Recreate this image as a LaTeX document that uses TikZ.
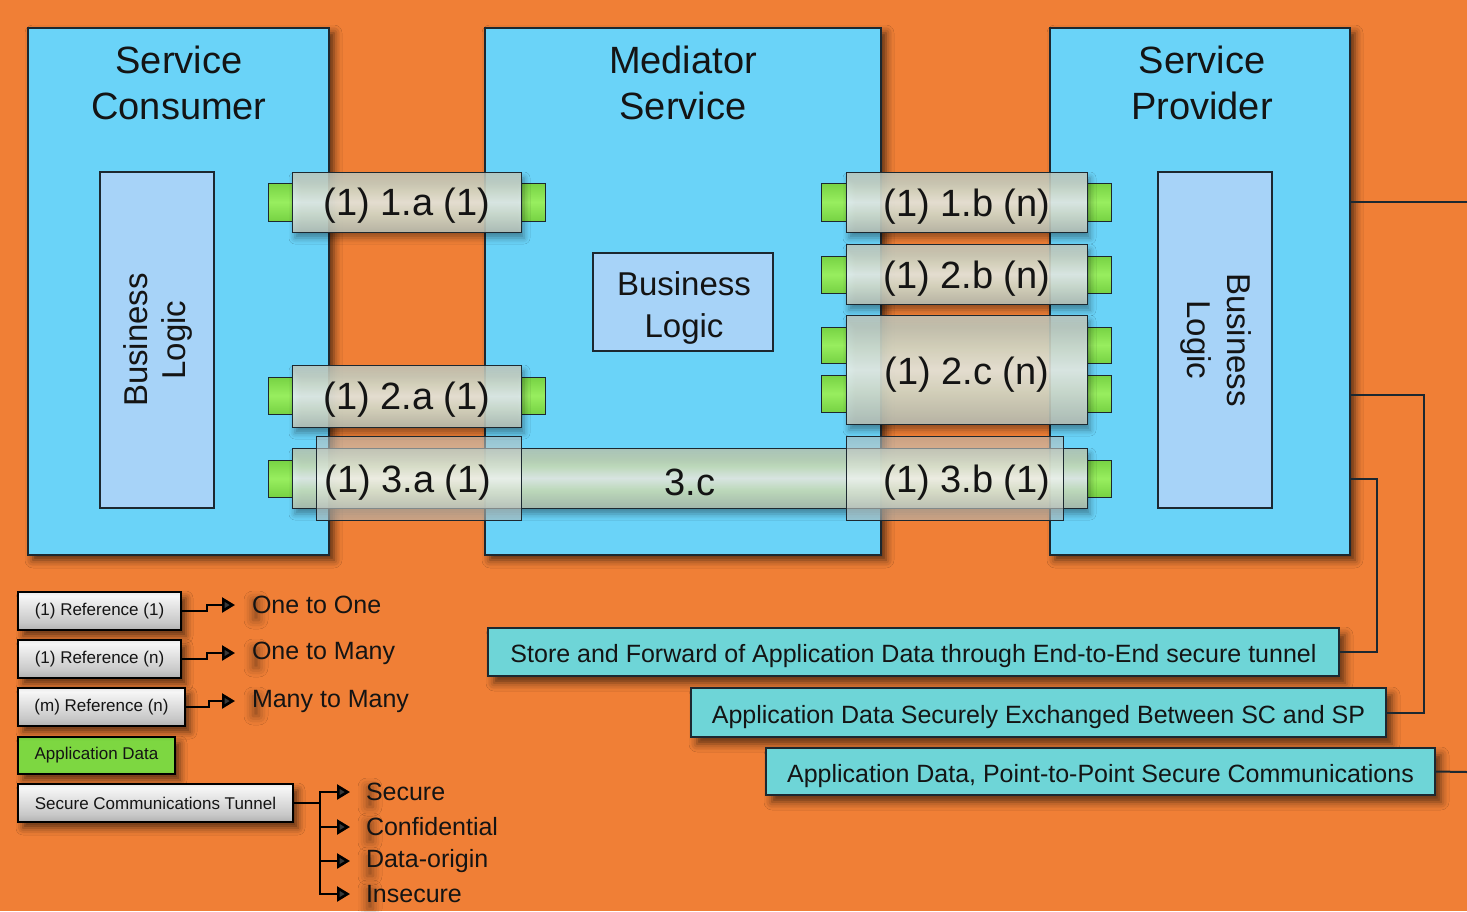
\documentclass[tikz,border=0pt]{standalone}
\usepackage{fontspec}
\setmainfont{Liberation Sans}
\usetikzlibrary{arrows.meta,shadows.blur,calc}

% palette
\definecolor{bgorange}{RGB}{240,127,54}
\definecolor{boxblue}{RGB}{106,211,248}
\definecolor{bizblue}{RGB}{167,211,248}
\definecolor{edge}{RGB}{28,40,48}
\definecolor{teal}{RGB}{110,213,215}
\definecolor{ink}{RGB}{20,20,20}
% tube body
\definecolor{tubeB}{RGB}{90,100,105}
\definecolor{tubeG}{RGB}{160,167,163}
\definecolor{tubeL}{RGB}{222,230,212}
\definecolor{tubeH}{RGB}{242,246,238}
% long tube
\definecolor{longL}{RGB}{210,232,192}
% sleeves
\definecolor{slvB}{RGB}{85,95,100}
\definecolor{slvG}{RGB}{150,158,160}
\definecolor{slvL}{RGB}{218,222,214}
% end caps
\definecolor{capB}{RGB}{55,130,35}
\definecolor{capG}{RGB}{112,205,62}
\definecolor{capL}{RGB}{152,238,95}
% legend boxes
\definecolor{legB}{RGB}{120,120,120}
\definecolor{legG}{RGB}{200,200,200}
\definecolor{legL}{RGB}{246,246,246}
\definecolor{appB}{RGB}{70,150,30}
\definecolor{appL}{RGB}{125,215,65}

\pgfdeclareverticalshading{tubeshade}{100bp}{color(0bp)=(tubeB); color(12bp)=(tubeG); color(40bp)=(tubeL); color(50bp)=(tubeH); color(60bp)=(tubeL); color(88bp)=(tubeG); color(100bp)=(tubeB)}
\pgfdeclareverticalshading{longshade}{100bp}{color(0bp)=(tubeB); color(15bp)=(tubeG); color(40bp)=(longL); color(50bp)=(tubeH); color(60bp)=(longL); color(85bp)=(tubeG); color(100bp)=(tubeB)}
\pgfdeclareverticalshading{sleeveshade}{100bp}{color(0bp)=(slvB); color(15bp)=(slvG); color(40bp)=(slvL); color(50bp)=(tubeH); color(60bp)=(slvL); color(85bp)=(slvG); color(100bp)=(slvB)}
\pgfdeclareverticalshading{capshade}{100bp}{color(0bp)=(capB); color(20bp)=(capG); color(50bp)=(capL); color(80bp)=(capG); color(100bp)=(capB)}
\pgfdeclareverticalshading{legshade}{100bp}{color(0bp)=(legB); color(35bp)=(legG); color(70bp)=(legL); color(90bp)=(legG); color(100bp)=(legB)}
\pgfdeclareverticalshading{appshade}{100bp}{color(0bp)=(appB); color(30bp)=(appL); color(70bp)=(appL); color(100bp)=(appB)}

% rectangle node from its corners: style, name, x1, y1, x2, y2, text
\newcommand{\rbox}[7]{%
  \node[#1, minimum width={(#5)-(#3)}, minimum height={(#6)-(#4)}]
    (#2) at ({((#3)+(#5))/2},{((#4)+(#6))/2}) {#7};}

% legend caption with a soft dark halo behind it
\newlength{\legw}
\newcommand{\legtext}[3]{%
  \settowidth{\legw}{\fontsize{25}{30}\selectfont #3}%
  \path[halo] ($(#2)+(3,-10)$) rectangle ($(#2)+({\legw-3pt},10)$);
  \node[legcap] (#1) at (#2) {#3};}

\begin{document}
\begin{tikzpicture}[x=1pt,y=-1pt,
  every node/.style={inner sep=0pt, outer sep=0pt, text=ink},
  bigbox/.style={draw=edge, line width=1.4pt, fill=boxblue,
    blur shadow={shadow xshift=5pt, shadow yshift=-5pt, shadow blur radius=8pt, shadow opacity=65}},
  bizbox/.style={draw=edge, line width=1.1pt, fill=bizblue, align=center,
    font=\fontsize{33}{41}\selectfont},
  title/.style={align=center, font=\fontsize{38}{46}\selectfont},
  endcap/.style={draw=edge, line width=1pt, shading=capshade},
  tube/.style={draw=edge, line width=1pt, shading=tubeshade, fill opacity=0.85,
    blur shadow={shadow xshift=3pt, shadow yshift=-6pt, shadow blur radius=6pt, shadow opacity=45}},
  longtube/.style={draw=edge, line width=1pt, shading=longshade, fill opacity=0.85,
    blur shadow={shadow xshift=3pt, shadow yshift=-6pt, shadow blur radius=6pt, shadow opacity=45}},
  sleeve/.style={draw=edge, line width=1pt, shading=sleeveshade, fill opacity=0.6},
  tubelabel/.style={font=\fontsize{38}{40}\selectfont},
  legbox/.style={draw=black, line width=1.5pt, shading=legshade,
    blur shadow={shadow xshift=5pt, shadow yshift=-6pt, shadow blur radius=7pt, shadow opacity=60},
    font=\fontsize{17}{20}\selectfont},
  appbox/.style={draw=black, line width=1.5pt, shading=appshade,
    blur shadow={shadow xshift=5pt, shadow yshift=-6pt, shadow blur radius=7pt, shadow opacity=60},
    font=\fontsize{17}{20}\selectfont},
  legcap/.style={anchor=west, font=\fontsize{25}{30}\selectfont},
  halo/.style={blur shadow={shadow xshift=4pt, shadow yshift=-5pt, shadow blur radius=9pt, shadow opacity=45}},
  legarrow/.style={line width=2.6pt, -{Triangle[length=13pt,width=15pt]}},
  legline/.style={line width=2.6pt},
  notebox/.style={draw=edge, line width=1.4pt, fill=teal,
    blur shadow={shadow xshift=6pt, shadow yshift=-7pt, shadow blur radius=8pt, shadow opacity=60},
    font=\fontsize{25}{30}\selectfont, text height=23pt, text depth=2pt},
  link/.style={draw=edge, line width=2pt}
]
\fill[bgorange] (0,0) rectangle (1467,911);
\useasboundingbox (0,0) rectangle (1467,911);

% ---- the three parties ----
\rbox{bigbox}{consumer}{28}{28}{329}{555}{}
\rbox{bigbox}{mediator}{485}{28}{881}{555}{}
\rbox{bigbox}{provider}{1050}{28}{1350}{555}{}
\node[title] (consumerT) at (179,83) {Service\\Consumer};
\node[title] (mediatorT) at (683,83) {Mediator\\Service};
\node[title] (providerT) at (1202,83) {Service\\Provider};

% business logic blocks
\rbox{bizbox}{bizC}{100}{172}{214}{508}{}
\node[bizbox, draw=none, fill=none, rotate=90, font=\fontsize{33}{38}\selectfont] (bizCT) at (158,340) {Business\\Logic};
\rbox{bizbox}{bizM}{593}{253}{773}{351}{}
\node[bizbox, draw=none, fill=none, font=\fontsize{33}{42}\selectfont] (bizMT) at (684,308) {Business\\Logic};
\rbox{bizbox}{bizP}{1158}{172}{1272}{508}{}
\node[bizbox, draw=none, fill=none, rotate=-90, font=\fontsize{33}{40}\selectfont] (bizPT) at (1216,340) {Business\\Logic};

% ---- reference tubes, consumer side ----
\rbox{endcap}{c1aL}{268}{183}{292}{221}{}
\rbox{endcap}{c1aR}{521}{183}{545}{221}{}
\rbox{tube}{t1a}{292}{172}{521}{232}{}
\node[tubelabel] (l1a) at (407,206) {(1) 1.a (1)};

\rbox{endcap}{c2aL}{268}{377}{292}{414}{}
\rbox{endcap}{c2aR}{521}{377}{545}{414}{}
\rbox{tube}{t2a}{292}{365}{521}{427}{}
\node[tubelabel] (l2a) at (407,400) {(1) 2.a (1)};

% ---- reference tubes, provider side ----
\rbox{endcap}{c1bL}{821}{183}{846}{221}{}
\rbox{endcap}{c1bR}{1087}{183}{1111}{221}{}
\rbox{tube}{t1b}{846}{172}{1087}{232}{}
\node[tubelabel] (l1b) at (967,207) {(1) 1.b (n)};

\rbox{endcap}{c2bL}{821}{256}{846}{293}{}
\rbox{endcap}{c2bR}{1087}{256}{1111}{293}{}
\rbox{tube}{t2b}{846}{244}{1087}{304}{}
\node[tubelabel] (l2b) at (967,279) {(1) 2.b (n)};

\rbox{endcap}{c2cL1}{821}{327}{846}{363}{}
\rbox{endcap}{c2cR1}{1087}{327}{1111}{363}{}
\rbox{endcap}{c2cL2}{821}{375}{846}{412}{}
\rbox{endcap}{c2cR2}{1087}{375}{1111}{412}{}
\rbox{tube}{t2c}{846}{315}{1087}{424}{}
\node[tubelabel] (l2c) at (967,375) {(1) 2.c (n)};

% ---- end-to-end tunnel through the mediator ----
\rbox{endcap}{c3L}{268}{460}{292}{497}{}
\rbox{endcap}{c3R}{1087}{460}{1111}{497}{}
\rbox{longtube}{t3c}{292}{448}{1087}{508}{}
\rbox{sleeve}{s3a}{316}{436}{521}{520}{}
\rbox{sleeve}{s3b}{846}{436}{1063}{520}{}
\node[tubelabel] (l3a) at (408,483) {(1) 3.a (1)};
\node[tubelabel] (l3c) at (690,482) {3.c};
\node[tubelabel] (l3b) at (967,483) {(1) 3.b (1)};

% ---- legend ----
\rbox{legbox}{ref11}{18}{592}{181}{630}{(1) Reference (1)}
\rbox{legbox}{ref1n}{18}{640}{181}{678}{(1) Reference (n)}
\rbox{legbox}{refmn}{18}{688}{185}{726}{(m) Reference (n)}
\rbox{appbox}{appdata}{18}{737}{175}{774}{Application Data}
\rbox{legbox}{tunnel}{18}{784}{293}{822}{Secure Communications Tunnel}

\legtext{oneone}{252,605}{One to One}
\legtext{onemany}{252,653}{One to Many}
\legtext{manymany}{252,701}{Many to Many}
\legtext{secure}{366,792}{Secure}
\legtext{confid}{366,827}{Confidential}
\legtext{origin}{366,861}{Data-origin}
\legtext{insecure}{366,894}{Insecure}

\draw[legarrow] (ref11.east) -- ++(26,0) |- ([xshift=-17pt]oneone.west);
\draw[legarrow] (ref1n.east) -- ++(26,0) |- ([xshift=-17pt]onemany.west);
\draw[legarrow] (refmn.east) -- ++(24,0) |- ([xshift=-17pt]manymany.west);

\coordinate (fork) at ($(tunnel.east)+(27,0)$);
\draw[legline] (tunnel.east) -- (fork);
\draw[legarrow] (fork) |- ([xshift=-16pt]secure.west);
\draw[legarrow] (fork) |- ([xshift=-16pt]confid.west);
\draw[legarrow] (fork) |- ([xshift=-16pt]origin.west);
\draw[legarrow] (fork) |- ([xshift=-16pt]insecure.west);

% ---- notes on the right ----
\coordinate (outA) at (1467,202);
\coordinate (outB) at (1467,772);
\coordinate (pA) at ($(provider.north east)+(0,174)$);
\coordinate (pB) at ($(provider.north east)+(0,367)$);
\coordinate (pC) at ($(provider.north east)+(0,451)$);

\rbox{notebox}{store}{488}{628}{1339}{676}{Store and Forward of Application Data through End-to-End secure tunnel}
\rbox{notebox}{exch}{691}{688}{1386}{737}{Application Data Securely Exchanged Between SC and SP}
\rbox{notebox}{p2p}{766}{748}{1435}{795}{Application Data, Point-to-Point Secure Communications}

\draw[link] (pA) -- (outA);
\draw[link] (pB) -| ([xshift=38pt]exch.east) -- (exch.east);
\draw[link] (pC) -| ([xshift=38pt]store.east) -- (store.east);
\draw[link] (p2p.east) -- (outB);
\end{tikzpicture}
\end{document}
